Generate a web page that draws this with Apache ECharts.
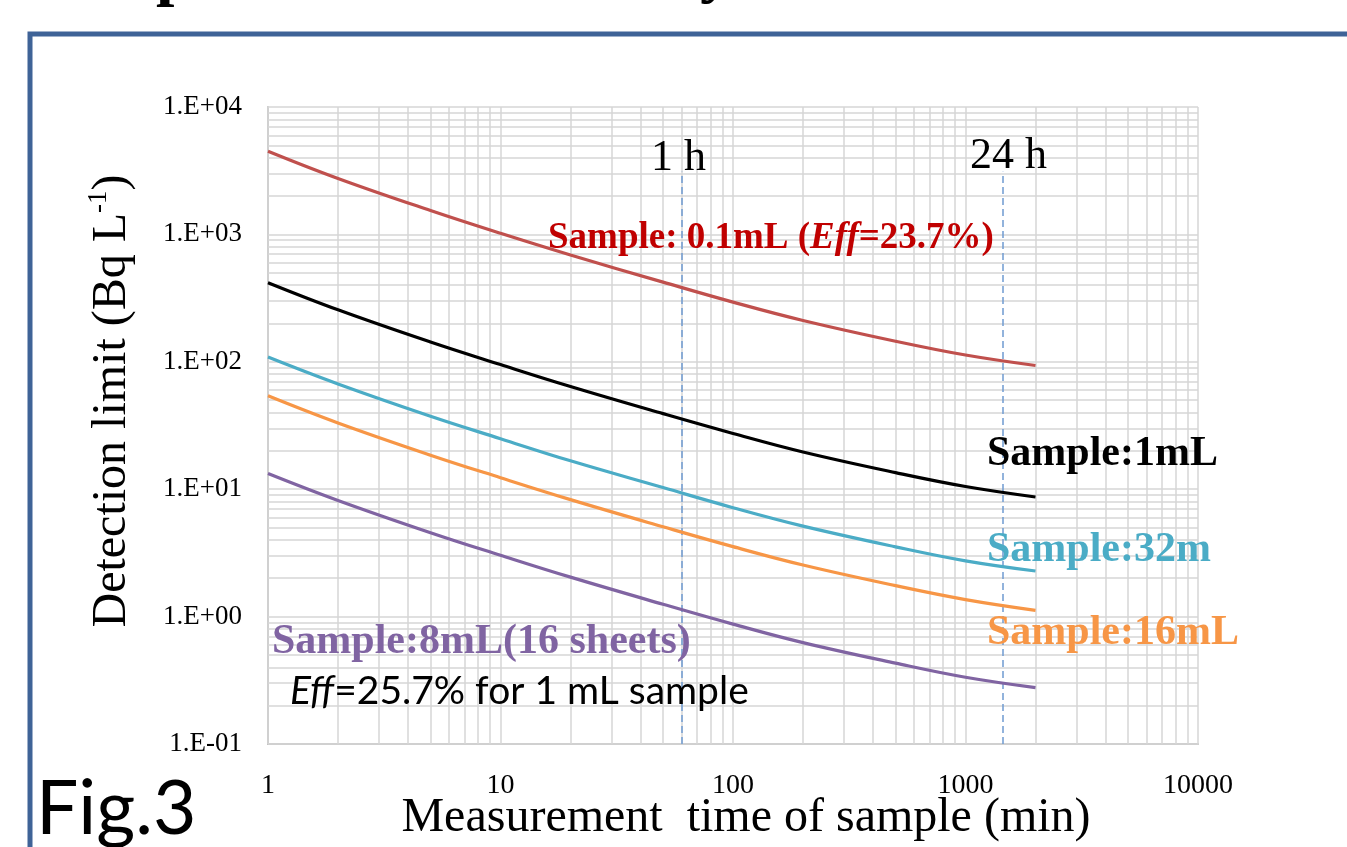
<!DOCTYPE html>
<html>
<head>
<meta charset="utf-8">
<script src="https://cdn.jsdelivr.net/npm/echarts@6/dist/echarts.min.js"></script>
<style>
  html, body { margin: 0; padding: 0; background: #fff; }
  #chart { width: 1347px; height: 847px; }
</style>
</head>
<body>
<div id="chart"></div>
<script>
const timeMin = [1, 2, 5, 10, 20, 50, 100, 200, 500, 1000, 2000];
const dl01mL = [4500, 2750, 1540, 1020, 689, 422, 294, 211, 145, 113, 93.5];
const dl1mL = [418, 256, 143, 95.1, 64.0, 39.2, 27.4, 19.6, 13.5, 10.5, 8.69];
const dl32mL = [109, 67.0, 37.4, 24.9, 16.7, 10.3, 7.16, 5.13, 3.53, 2.74, 2.28];
const dl16mL = [54.1, 33.1, 18.5, 12.3, 8.28, 5.07, 3.54, 2.54, 1.75, 1.36, 1.12];
const dl8mL = [13.3, 8.17, 4.56, 3.03, 2.04, 1.25, 0.873, 0.625, 0.431, 0.334, 0.277];

const xTickValues = [1, 10, 100, 1000, 10000];
const xTickLabels = ['1', '10', '100', '1000', '10000'];
const yTickValues = [0.1, 1, 10, 100, 1000, 10000];
const yTickLabels = ['1.E-01', '1.E+00', '1.E+01', '1.E+02', '1.E+03', '1.E+04'];

const markTimes = [60, 1440]; // 1 h, 24 h

const SERIF = "'Liberation Serif', 'DejaVu Serif', serif";
const SANS = "Lato, 'Open Sans', sans-serif";

function tickLabel(values, labels) {
    return function (v) {
        const i = values.findIndex((t) => Math.abs(Math.log10(t) - Math.log10(v)) < 1e-6);
        return i < 0 ? '' : labels[i];
    };
}

// log grid lines (1..9 in each decade, plus the top decade)
function logLines(lo, hi) {
    const out = [];
    for (let d = lo; d < hi * 0.99; d *= 10) {
        for (let k = 1; k <= 9; k++) out.push(+(d * k).toPrecision(3));
    }
    out.push(hi);
    return out;
}
const gridLines = logLines(1, 10000).map((v) => ({xAxis: v}))
    .concat(logLines(0.1, 10000).map((v) => ({yAxis: v})));

function curve(name, values, color) {
    return {
        name,
        type: 'line',
        data: timeMin.map((t, i) => [t, values[i]]),
        smooth: 0.4,
        showSymbol: false,
        lineStyle: {color, width: 3.2},
        itemStyle: {color},
        z: 5,
        silent: true,
    };
}

function label(text, left, top, font, fill) {
    return {type: 'text', left, top, silent: true, z: 10, style: {text, font, fill}};
}

const chart = echarts.init(document.getElementById('chart'));
chart.setOption({
    animation: false,
    backgroundColor: '#fff',
    grid: {left: 268, right: 149, top: 107, bottom: 103},
    xAxis: {
        type: 'log',
        logBase: 10,
        min: 1,
        max: 10000,
        axisLine: {show: true, lineStyle: {color: '#bfbfbf', width: 2}},
        axisTick: {show: false},
        axisLabel: {
            fontFamily: SERIF, fontSize: 28, color: '#000', margin: 28,
            formatter: tickLabel(xTickValues, xTickLabels),
        },
        splitLine: {show: false},
    },
    yAxis: {
        type: 'log',
        logBase: 10,
        min: 0.1,
        max: 10000,
        axisLine: {show: true, lineStyle: {color: '#bfbfbf', width: 2}},
        axisTick: {show: false},
        axisLabel: {
            fontFamily: SERIF, fontSize: 27, color: '#000', margin: 26,
            formatter: tickLabel(yTickValues, yTickLabels),
        },
        splitLine: {show: false},
    },
    series: [
        {
            name: 'grid',
            type: 'line',
            data: [[1, 0.1]],
            showSymbol: false,
            lineStyle: {opacity: 0},
            silent: true,
            z: 1,
            markLine: {
                silent: true,
                symbol: ['none', 'none'],
                label: {show: false},
                lineStyle: {color: '#d6d6d6', width: 1.5, type: 'solid'},
                emphasis: {disabled: true},
                data: gridLines,
            },
        },
        {
            name: 'hours',
            type: 'line',
            data: [[1, 0.1]],
            showSymbol: false,
            lineStyle: {opacity: 0},
            silent: true,
            z: 3,
            markLine: {
                silent: true,
                symbol: ['none', 'none'],
                label: {show: false},
                lineStyle: {color: '#6f9bd1', width: 1.5, type: [7, 4]},
                emphasis: {disabled: true},
                data: markTimes.map((t) => [{coord: [t, 0.1]}, {coord: [t, 3100]}]),
            },
        },
        curve('Sample: 0.1mL', dl01mL, '#c0504d'),
        curve('Sample:1mL', dl1mL, '#000000'),
        curve('Sample:32mL', dl32mL, '#4bacc6'),
        curve('Sample:16mL', dl16mL, '#f79646'),
        curve('Sample:8mL', dl8mL, '#8064a2'),
    ],
    graphic: [
        // slide frame
        {
            type: 'rect', z: 0, silent: true,
            shape: {x: 30, y: 34, width: 1400, height: 900},
            style: {fill: 'none', stroke: '#3f6397', lineWidth: 5},
        },
        // cut-off slide title
        label('p', 156, -57, "bold 66px 'Liberation Serif', serif", '#000'),
        label('y', 700, -60, "bold 66px 'Liberation Serif', serif", '#000'),
        label('Fig.3', 36, 772, "75px Lato, 'Open Sans', sans-serif", '#000'),
        label('1 h', 651, 136, "44px 'Liberation Serif', serif", '#000'),
        label('24 h', 970, 134, "44px 'Liberation Serif', serif", '#000'),
        // axis titles
        {
            type: 'text', x: 112, y: 401, rotation: Math.PI / 2, silent: true,
            style: {
                text: '{n|Detection limit (Bq L}{sup|-1}{n|)}',
                align: 'center', verticalAlign: 'middle',
                rich: {
                    n: {fontFamily: SERIF, fontSize: 48, lineHeight: 54, fill: '#000'},
                    sup: {fontFamily: SERIF, fontSize: 27, lineHeight: 30, verticalAlign: 'top', fill: '#000'},
                },
            },
        },
        {
            type: 'text', x: 746, y: 818, silent: true,
            style: {
                text: 'Measurement  time of sample (min)',
                font: "48px 'Liberation Serif', serif", fill: '#000',
                align: 'center', verticalAlign: 'middle',
            },
        },
        // curve annotations
        {
            type: 'text', left: 548, top: 220, silent: true, z: 10,
            style: {
                text: '{b|Sample: 0.1mL (}{bi|Eff}{b|=23.7%)}',
                rich: {
                    b: {fontFamily: SERIF, fontWeight: 'bold', fontSize: 37, fill: '#c00000'},
                    bi: {fontFamily: SERIF, fontWeight: 'bold', fontStyle: 'italic', fontSize: 37, fill: '#c00000'},
                },
            },
        },
        label('Sample:1mL', 987, 433, "bold 42px 'Liberation Serif', serif", '#000'),
        label('Sample:32m', 987, 529, "bold 42px 'Liberation Serif', serif", '#4bacc6'),
        label('Sample:16mL', 987, 612, "bold 42px 'Liberation Serif', serif", '#f79646'),
        label('Sample:8mL(16 sheets)', 272, 621, "bold 42px 'Liberation Serif', serif", '#8064a2'),
        {
            type: 'text', left: 290, top: 672, silent: true, z: 10,
            style: {
                text: '{i|Eff}{n|=25.7% for 1 mL sample}',
                rich: {
                    i: {fontFamily: SANS, fontStyle: 'italic', fontSize: 39, fill: '#000'},
                    n: {fontFamily: SANS, fontSize: 39, fill: '#000'},
                },
            },
        },
    ],
});
</script>
</body>
</html>
